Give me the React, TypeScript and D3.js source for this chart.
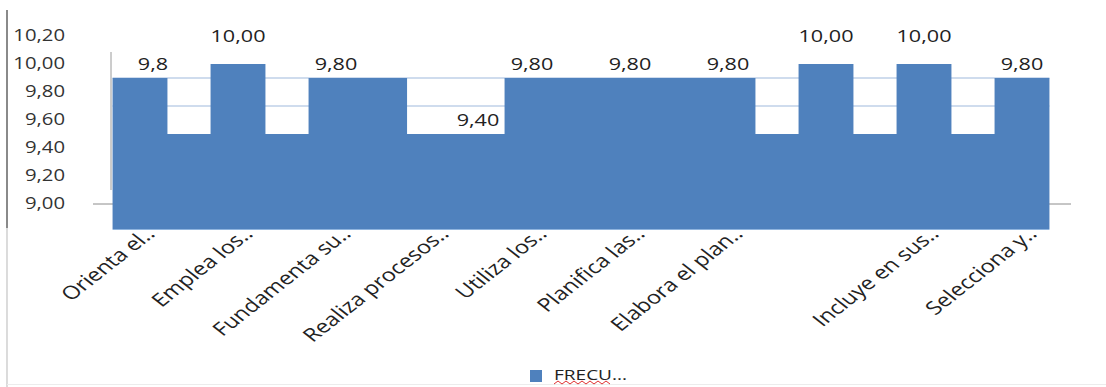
import React from "react";
import * as d3 from "d3";

const categories = [
  "Orienta el..",
  "Emplea los..",
  "Fundamenta su..",
  "Realiza procesos..",
  "Utiliza los..",
  "Planifica las..",
  "Elabora el plan..",
  "",
  "Incluye en sus..",
  "Selecciona y..",
];
const values = [9.8, 10.0, 9.8, 9.4, 9.8, 9.8, 9.8, 10.0, 10.0, 9.8];
const valueLabels = ["9,8", "10,00", "9,80", "9,40", "9,80", "9,80", "9,80", "10,00", "10,00", "9,80"];
const gapValues = [9.4, 9.4, 9.8, 9.4, 9.8, 9.8, 9.4, 9.4, 9.4];
const yTicks = [9.0, 9.2, 9.4, 9.6, 9.8, 10.0, 10.2];
const gridValues = [9.8, 9.6];
const seriesName = "FRECU...";

// layout
const W = 1106;
const H = 387;
const plotBottom = 229;
const labelNudge = [13, 0, 0, 44, 0, 0, 0, 0, 0, 0];
const SX = 1.27; // horizontal stretch of the text in the reference
const BLUE = "#4f81bd";
const FONT = "'Open Sans', 'Liberation Sans', sans-serif";

export default function App() {
  const keys = categories.map((_, i) => String(i));
  const x = d3.scaleBand<string>().domain(keys).range([91, 1071]).paddingInner(0.44).paddingOuter(0.22);
  const bw = x.bandwidth();
  const yAxis = d3.scaleLinear().domain([9.0, 10.2]).range([203, 35]);
  const yBar = d3
    .scaleLinear()
    .domain([9.0, 9.8, 10.0])
    .range([yAxis(9.0) - 13, yAxis(9.8) - 13, 64]);
  const fmt = (v: number) => d3.format(".2f")(v).replace(".", ",");
  const plotLeft = x(keys[0])!;
  const plotRight = x(keys[keys.length - 1])! + bw;

  return (
    <svg width={W} height={H} style={{ position: "absolute", left: 0, top: 0, background: "#fff" }}>
      {/* outer chart border fragments */}
      <line x1={7} x2={7} y1={10} y2={228} stroke="#8a8a8a" strokeWidth={2} />
      <line x1={7} x2={7} y1={228} y2={H} stroke="#c4c4c4" strokeWidth={1.2} />
      <line x1={7} x2={W} y1={384.5} y2={384.5} stroke="#ececec" strokeWidth={1} />

      {/* gridlines */}
      {gridValues.map((g) => (
        <line key={g} x1={plotLeft} x2={plotRight} y1={yBar(g)} y2={yBar(g)} stroke="#9fb9dc" strokeWidth={1} />
      ))}

      {/* vertical axis line */}
      <line x1={111} x2={111} y1={52} y2={190} stroke="#9a9a9a" strokeWidth={1} />
      {/* horizontal axis at 9,00 */}
      <line x1={93} x2={1071} y1={yAxis(9.0) + 1} y2={yAxis(9.0) + 1} stroke="#8c8c8c" strokeWidth={1} />

      {/* gap fills */}
      {gapValues.map((g, i) => {
        const x0 = x(keys[i])! + bw;
        const x1 = x(keys[i + 1])!;
        return (
          <rect key={"g" + i} x={x0 - 0.5} y={yBar(g)} width={x1 - x0 + 1} height={plotBottom - yBar(g)} fill={BLUE} />
        );
      })}
      {/* bars */}
      {values.map((v, i) => (
        <rect key={"b" + i} x={x(keys[i])!} y={yBar(v)} width={bw} height={plotBottom - yBar(v)} fill={BLUE} />
      ))}
      <line x1={plotLeft} x2={plotRight} y1={plotBottom + 0.5} y2={plotBottom + 0.5} stroke="#8fb4de" strokeWidth={1} />

      {/* y tick labels */}
      {yTicks.map((t) => (
        <g key={t} transform={`translate(65,${yAxis(t)}) scale(${SX},1)`}>
          <text textAnchor="end" dy="0.35em" fontFamily={FONT} fontSize={16} fill="#333">
            {fmt(t)}
          </text>
        </g>
      ))}

      {/* data labels */}
      {values.map((v, i) => (
        <g key={"l" + i} transform={`translate(${x(keys[i])! + bw / 2 + labelNudge[i]},${yAxis(v) - 27}) scale(${SX},1)`}>
          <text textAnchor="middle" dy="0.35em" fontFamily={FONT} fontSize={17} fill="#222">
            {valueLabels[i]}
          </text>
        </g>
      ))}

      {/* category labels */}
      {categories.map((c, i) =>
        c ? (
          <g key={"c" + i} transform={`translate(${x(keys[i])! + bw / 2 + 16},235) scale(${SX},1) rotate(-45)`}>
            <text textAnchor="end" fontFamily={FONT} fontSize={18.5} fill="#222">
              {c}
            </text>
          </g>
        ) : null
      )}

      {/* legend */}
      <rect x={530} y={370} width={12} height={12} fill={BLUE} />
      <g transform={`translate(554,380) scale(${SX},1)`}>
        <text fontFamily={FONT} fontSize={15} fill="#222">
          {seriesName}
        </text>
      </g>
      <path
        d={d3.range(0, 15).map((k) => `${k === 0 ? "M" : "L"}${554 + k * 4},${k % 2 ? 381 : 384}`).join(" ")}
        fill="none"
        stroke="#e03030"
        strokeWidth={1}
      />
    </svg>
  );
}
